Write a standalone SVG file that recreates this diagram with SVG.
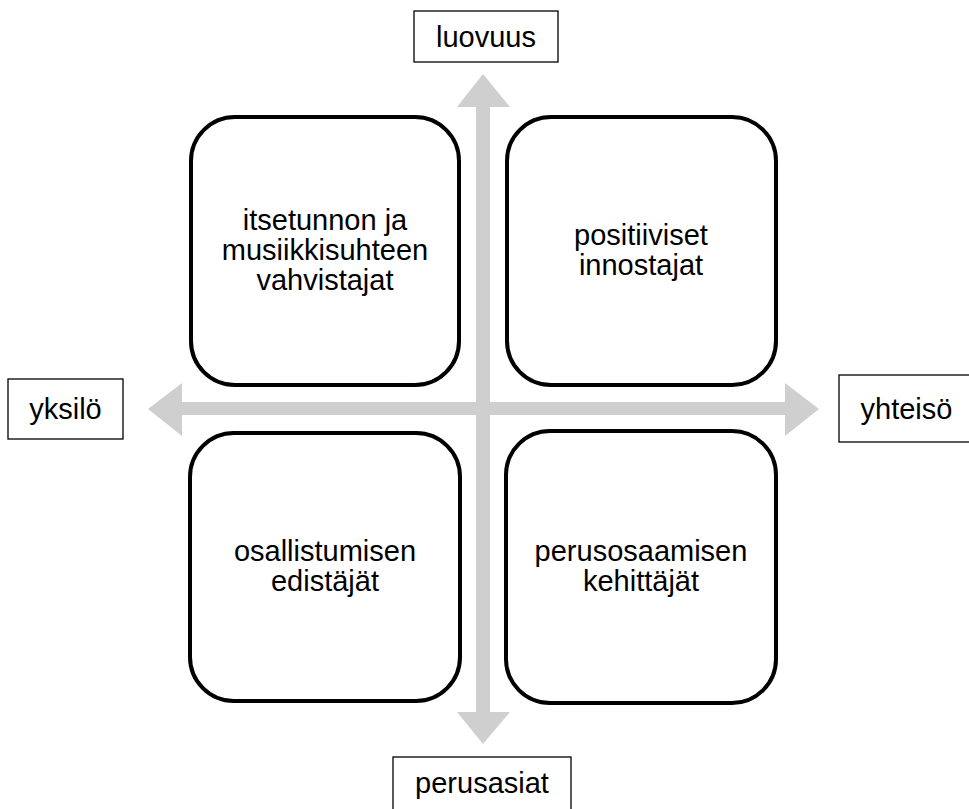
<svg xmlns="http://www.w3.org/2000/svg" width="969" height="809" viewBox="0 0 969 809">
<style>
.axis{fill:#cfcfcf;stroke:none}
.quad{fill:#ffffff;stroke:#000000;stroke-width:4}
.lbl{fill:#ffffff;stroke:#000000;stroke-width:1.3}
text{font-family:"Liberation Sans",Arial,sans-serif;font-size:29px;fill:#000000;text-anchor:middle}
</style>
<rect x="0" y="0" width="969" height="809" fill="#ffffff"/>
<g id="connectors">
<polygon class="axis" points="483,74 510,107 490,107 490,712 510,712 483,744 457,712 476,712 476,107 457,107"/>
<polygon class="axis" points="148,409 182,383 182,402 785,402 785,383 819,409 785,436 785,415 182,415 182,436"/>
</g>
<g id="node-tl">
<rect class="quad" x="191" y="117" width="268" height="268" rx="44" ry="44"/>
<text x="325" y="230">itsetunnon ja</text>
<text x="325" y="260">musiikkisuhteen</text>
<text x="325" y="290">vahvistajat</text>
</g>
<g id="node-tr">
<rect class="quad" x="507" y="117" width="269" height="268" rx="44" ry="44"/>
<text x="641" y="245">positiiviset</text>
<text x="641" y="275">innostajat</text>
</g>
<g id="node-bl">
<rect class="quad" x="190" y="433" width="270" height="268" rx="44" ry="44"/>
<text x="325" y="561">osallistumisen</text>
<text x="325" y="591">edistäjät</text>
</g>
<g id="node-br">
<rect class="quad" x="506" y="431" width="270" height="272" rx="44" ry="44"/>
<text x="641" y="561">perusosaamisen</text>
<text x="641" y="591">kehittäjät</text>
</g>
<g id="label-top">
<rect class="lbl" x="414" y="11" width="144" height="51"/>
<text x="486" y="47">luovuus</text>
</g>
<g id="label-left">
<rect class="lbl" x="8" y="379" width="115" height="60"/>
<text x="65.5" y="419">yksilö</text>
</g>
<g id="label-right">
<rect class="lbl" x="839" y="375" width="140" height="67"/>
<text x="906.5" y="419">yhteisö</text>
</g>
<g id="label-bottom">
<rect class="lbl" x="393" y="757" width="178" height="70"/>
<text x="482" y="793">perusasiat</text>
</g>
</svg>
